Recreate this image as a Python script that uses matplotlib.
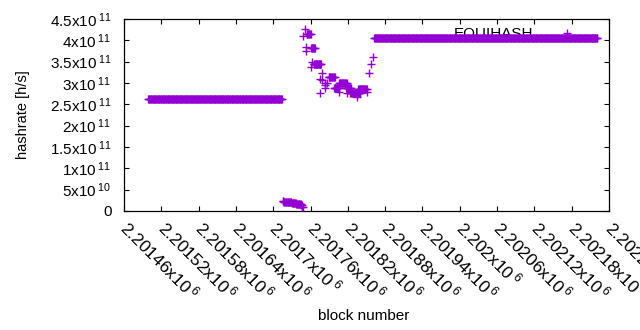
import matplotlib
matplotlib.use("Agg")
import matplotlib.pyplot as plt
import numpy as np

plt.rcParams['font.family'] = ['Liberation Sans', 'DejaVu Sans']
plt.rcParams['mathtext.fontset'] = 'custom'
plt.rcParams['mathtext.rm'] = 'Liberation Sans'
plt.rcParams['mathtext.it'] = 'Liberation Sans'

# runs of consecutive blocks sharing the same hashrate
run_start = [2201499,
             2201715, 2201717, 2201723, 2201730, 2201737, 2201742, 2201745, 2201747,
             2201748, 2201751, 2201753, 2201753, 2201754, 2201761, 2201762, 2201760,
             2201765, 2201779, 2201776, 2201779, 2201783, 2201775, 2201784, 2201784,
             2201787, 2201789, 2201798, 2201805, 2201806, 2201817, 2201819, 2201824,
             2201835, 2201837, 2201851, 2201854, 2201857, 2201860,
             2201862]
run_end = [2201714,
           2201716, 2201722, 2201729, 2201736, 2201741, 2201744, 2201746, 2201748,
           2201748, 2201751, 2201753, 2201753, 2201760, 2201767, 2201762, 2201760,
           2201777, 2201779, 2201776, 2201779, 2201783, 2201775, 2201784, 2201784,
           2201787, 2201799, 2201806, 2201805, 2201818, 2201825, 2201819, 2201840,
           2201835, 2201850, 2201851, 2201854, 2201857, 2201860,
           2202221]
run_rate = [2.62e11,
            2.4e10, 2.2e10, 2.05e10, 1.9e10, 1.75e10, 1.55e10, 1.3e10, 1.0e10,
            4.11e11, 4.27e11, 3.84e11, 3.76e11, 4.14e11, 3.81e11, 3.49e11, 3.38e11,
            3.44e11, 3.23e11, 3.09e11, 3.06e11, 2.99e11, 2.77e11, 2.88e11, 2.95e11,
            3.00e11, 3.13e11, 2.88e11, 2.80e11, 3.00e11, 2.88e11, 2.76e11, 2.76e11,
            2.67e11, 2.86e11, 2.80e11, 3.23e11, 3.45e11, 3.60e11,
            4.05e11]

x_ticks = [2201460, 2201520, 2201580, 2201640, 2201700, 2201760, 2201820,
           2201880, 2201940, 2202000, 2202060, 2202120, 2202180, 2202240]
x_labels = ['2.20146', '2.20152', '2.20158', '2.20164', '2.2017', '2.20176', '2.20182',
            '2.20188', '2.20194', '2.202', '2.20206', '2.20212', '2.20218', '2.20224']
y_ticks = [0, 5e10, 1e11, 1.5e11, 2e11, 2.5e11, 3e11, 3.5e11, 4e11, 4.5e11]
y_labels = ['0', '5x10$^{\\;10}$', '1x10$^{\\;11}$', '1.5x10$^{\\;11}$', '2x10$^{\\;11}$',
            '2.5x10$^{\\;11}$', '3x10$^{\\;11}$', '3.5x10$^{\\;11}$', '4x10$^{\\;11}$',
            '4.5x10$^{\\;11}$']

blocks = np.concatenate([np.arange(s, e + 1) for s, e in zip(run_start, run_end)])
rates = np.concatenate([np.full(e - s + 1, r) for s, e, r in zip(run_start, run_end, run_rate)])

fig = plt.figure(figsize=(6.4, 3.3), dpi=100)
ax = fig.add_axes([124 / 640, 1 - 211 / 330, 485 / 640, 192 / 330])

ax.plot(blocks, rates, linestyle='none', marker='+', ms=5.2, mew=1.0,
        color='#9400d3', label='EQUIHASH', zorder=3, clip_on=False)

ax.set_xlim(x_ticks[0], x_ticks[-1])
ax.set_ylim(0, 4.5e11)
ax.set_xticks(x_ticks)
ax.set_xticklabels([s + 'x10$^{\\;6}$' for s in x_labels], rotation=-45,
                   ha='left', va='center', rotation_mode='anchor', fontsize=12.5)
ax.set_yticks(y_ticks)
ax.set_yticklabels(y_labels, fontsize=11)
ax.tick_params(direction='in', top=True, right=True, length=3.5, width=0.8,
               colors='black')
ax.tick_params(axis='x', pad=9.5)
ax.tick_params(axis='y', pad=9)
for sp in ax.spines.values():
    sp.set_linewidth(0.9)

ax.set_ylabel('hashrate [h/s]', fontsize=10.5)
ax.yaxis.set_label_coords(-0.194, 0.5)
ax.set_xlabel('block number', fontsize=11)
ax.xaxis.set_label_coords(0.495, -0.51)

leg = ax.legend(loc='center right', bbox_to_anchor=(0.957, 0.92), frameon=False,
                markerfirst=False, handlelength=2.8, handletextpad=0.8,
                borderpad=0, borderaxespad=0, fontsize=11)
leg.set_zorder(1)

fig.savefig('out.png', dpi=100)
